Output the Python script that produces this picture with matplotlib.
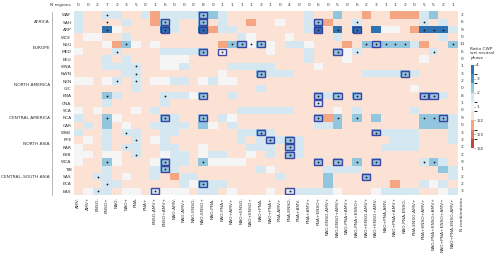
import matplotlib
matplotlib.use("Agg")
import matplotlib.pyplot as plt
import numpy as np
from matplotlib.colors import ListedColormap, BoundaryNorm

regions = ["WAF", "SAH", "ARP", "WCE", "NEU", "MED", "EEU", "WNA", "NWN", "NEN",
           "GIC", "ENA", "CNA", "SCA", "NCA", "CAR", "WSB", "RFE", "RAR", "ESB",
           "WCA", "TIB", "SAS", "ECA", "EAS"]
groups = [("AFRICA", 0, 2), ("EUROPE", 3, 6), ("NORTH AMERICA", 7, 12),
          ("CENTRAL AMERICA", 13, 15), ("NORTH ASIA", 16, 19),
          ("CENTRAL\u2013SOUTH ASIA", 20, 24)]
combos = ["AMV-", "AMV+", "ENSO-", "ENSO+", "NAO-", "NAO+", "PNA-", "PNA+",
          "ENSO-AMV+", "ENSO+AMV+", "NAO-AMV-", "NAO-AMV+", "NAO-ENSO-", "NAO-ENSO+",
          "NAO-PNA-", "NAO-PNA+", "NAO+AMV+", "NAO+ENSO-", "NAO+ENSO+", "NAO+PNA-",
          "NAO+PNA+", "PNA-AMV+", "PNA-ENSO-", "PNA+AMV-", "PNA+AMV+", "PNA+ENSO+",
          "NAO-ENSO-AMV+", "NAO-ENSO+AMV+", "NAO-PNA+AMV+", "NAO-PNA+ENSO+",
          "NAO+ENSO-AMV+", "NAO+ENSO+AMV-", "NAO+PNA-AMV-", "NAO+PNA+AMV+",
          "NAO-PNA-ENSO-", "PNA-ENSO-AMV+", "PNA+ENSO+AMV+", "NAO-PNA+ENSO+AMV+",
          "NAO+PNA+ENSO+AMV+", "NAO+PNA-ENSO-AMV+"]
n_regions = [0, 0, 2, 7, 2, 3, 5, 0, 1, 6, 0, 0, 0, 8, 0, 1, 1, 1, 1, 3,
             1, 0, 4, 0, 0, 6, 0, 5, 0, 6, 2, 3, 1, 1, 2, 0, 5, 5, 2, 1]
n_combos = [2, 6, 9, 0, 11, 6, 0, 1, 3, 2, 0, 8, 1, 0, 9, 0, 3, 3, 2, 2, 9, 1, 2, 2, 3]

# colour class of every cell (one string per region)
cells = [
    "bppbbppbob" "bbbBBbpppp" "ppppbppBpp" "oppooobBpp",  # WAF
    "bppppbppoB" "bppBpbppop" "pwppbBoppb" "ppppppbpbp",  # SAH
    "bppDwppppD" "bppDobbppp" "ppppbDpDpD" "pDwwpoDDDb",  # ARP
    "pwwppbpppp" "pppppppbwp" "ppwppppbpp" "ppppppppbp",  # WCE
    "pppwoBwpwp" "pppppoBBwB" "wpbbwpppop" "BBBBBboppB",  # NEU
    "wpppbppppb" "bbbBpwpppp" "wpppbppBwb" "pppppppbpp",  # MED
    "pppbpbpppw" "wwpppppppp" "ppppbpppwp" "ppppppwppp",  # EEU
    "pppbbbbppw" "wbppppbbbb" "bppppwpppp" "pppppppppp",  # WNA
    "pppppbbppp" "pppppwpppB" "bbbppppppp" "bbbbBbpppp",  # NWN
    "wwpwbpbpww" "bbpwbwwppp" "pppppppppp" "pppppppppp",  # NEN
    "ppppppbppp" "pppppppppb" "pppppppppp" "pppppwpppp",  # GIC
    "pppBbppppb" "bbwBppbppp" "pppppBbBpB" "ppppppBBbp",  # ENA
    "pppbpppppb" "pppppppppp" "pppppbpppp" "pppppppppp",  # CNA
    "wpwpppwpbp" "pppppppbbb" "bbbppppwpb" "pppppbpppp",  # SCA
    "bppBwppppB" "bppBpbwppp" "pppppBoBpB" "pBppppBBBb",  # NCA
    "pbpBpwppbb" "bbpBwpbppp" "pppppbbBpp" "ppppppBBBb",  # CAR
    "bppbpbbppb" "bppppppbbB" "bppppppppp" "pBbbbbpppb",  # WSB
    "pwpbppbpwb" "pppppppbpb" "BbBbpppppp" "pppbbbpppb",  # RFE
    "wppbpbbppb" "bppwppppbb" "bpBbpppppp" "ppbbbbpppp",  # RAR
    "wwpwwpbppw" "bbpwbbppwp" "bpBbpppppp" "pppppppppp",  # ESB
    "wppBwpppwB" "bbpBwwwwpp" "pppppBpBpB" "pBppppbBbp",  # WCA
    "pppbppppbB" "bppppppppb" "wpppppbbbb" "ppppppppBb",  # TIB
    "ppbbpwppbp" "obbppppppp" "pbppppBppp" "Bppppppppb",  # SAS
    "pppbbppppp" "pbwBbbpppp" "ppppppBppp" "pppoppbwbp",  # ECA
    "pwbbpwwpbw" "wwpbbpwppp" "wpbbbbbwpp" "pwbbbbppwb",  # EAS
]
ratio_of = {"R": 0.3, "o": 0.45, "p": 0.65, "w": 1.0, "b": 1.5, "B": 2.2, "M": 2.9, "D": 3.6}

boxed = [(0, 13), (1, 9), (1, 13), (1, 25), (2, 9), (2, 13), (2, 25), (2, 29),
         (4, 17), (4, 19), (4, 31), (5, 13), (5, 15), (5, 27), (8, 19), (8, 34),
         (11, 13), (11, 25), (11, 27), (11, 29), (11, 36), (11, 37), (12, 25),
         (14, 9), (14, 13), (14, 25), (14, 38), (16, 19), (16, 31), (17, 20),
         (17, 22), (18, 22), (19, 22), (20, 9), (20, 25), (20, 27), (20, 31),
         (21, 9), (22, 30), (23, 13), (24, 8), (24, 22)]
dots = [(0, 3), (1, 3), (2, 3), (4, 5), (5, 4), (7, 6), (8, 6), (9, 4), (9, 6),
        (11, 3), (11, 9), (14, 3), (16, 5), (17, 6), (18, 5), (19, 6), (20, 3),
        (22, 2), (23, 3), (24, 2), (1, 29), (1, 36), (2, 27), (2, 36), (2, 37),
        (2, 38), (4, 16), (4, 18), (4, 30), (4, 32), (4, 33), (4, 34), (4, 39),
        (5, 29), (5, 37), (14, 27), (14, 29), (14, 36), (14, 37), (20, 13),
        (20, 29), (20, 36), (20, 37)] + boxed

ratio = np.array([[ratio_of[c] for c in row] for row in cells])
# symmetric ratio scale: 2 -> 1, 1/2 -> -1
score = np.where(ratio >= 1, ratio - 1, 1 - 1 / ratio)

colors = ["#c9453c", "#e07a62", "#f4a582", "#fbe2d5", "#f5f5f5",
          "#d5e7f1", "#92c5de", "#4393c3", "#2e72b2"]
cmap = ListedColormap(colors)
norm = BoundaryNorm(np.linspace(-3, 3, 10), cmap.N)

fs = 3.2
fig = plt.figure(figsize=(5.0, 2.57), dpi=100)
ax = fig.add_axes([73.5 / 500, 1 - 195 / 257, 384 / 500, 183.7 / 257])
nr, nc = score.shape
mesh = ax.pcolormesh(np.arange(nc + 1), np.arange(nr + 1), score, cmap=cmap, norm=norm)
ax.set_xlim(0, nc)
ax.set_ylim(nr, 0)
for s in ax.spines.values():
    s.set_visible(False)
ax.tick_params(length=0, pad=1.5)
ax.set_yticks(np.arange(nr) + 0.5)
ax.set_yticklabels(regions, fontsize=fs, color="#333333")
ax.set_xticks(np.arange(nc) + 0.5)
ax.set_xticklabels(combos, rotation=90, fontsize=fs, color="#333333")

for r, c in dots:
    ax.plot(c + 0.5, r + 0.5, "o", ms=1.3, color="#1a1a1a", mew=0)
for r, c in boxed:
    ax.add_patch(plt.Rectangle((c + 0.08, r + 0.1), 0.84, 0.8, fill=False,
                               ec="#34349c", lw=1.0, alpha=0.9))

# counts around the grid
ax.text(-0.3, -0.85, "N regions", ha="right", va="center", fontsize=fs, color="#333333")
for c, n in enumerate(n_regions):
    ax.text(c + 0.5, -0.85, str(n), ha="center", va="center", fontsize=fs, color="#333333")
for r, n in enumerate(n_combos):
    ax.text(nc + 0.45, r + 0.5, str(n), ha="center", va="center", fontsize=fs,
            color="#333333", clip_on=False)
ax.text(nc + 0.45, nr + 0.35, "N combinations", rotation=90, ha="center", va="top",
        fontsize=fs, color="#333333")

# region groups with brackets
for name, r0, r1 in groups:
    ax.plot([-2.25, -2.25], [r0 + 0.05, r1 + 0.95], color="#999999", lw=0.5, clip_on=False)
    ax.text(-2.45, (r0 + r1 + 1) / 2, name, ha="right", va="center", fontsize=fs,
            color="#333333")

cax = fig.add_axes([470.5 / 500, 1 - 148 / 257, 3 / 500, 83 / 257])
cb = fig.colorbar(mesh, cax=cax, ticks=[-3, -2, -1, 0, 1, 2, 3])
cb.ax.set_yticklabels(["1/4", "1/3", "1/2", "1", "2", "3", "4"])
cb.ax.tick_params(labelsize=fs, length=1, width=0.4, pad=1, colors="#333333")
cb.outline.set_visible(False)
fig.text(470.5 / 500, 1 - 47 / 257, "Ratio CWP\nwrt neutral\nphase", ha="left", va="top",
         fontsize=fs, color="#333333", linespacing=1.1)

fig.savefig("out.png", dpi=100)
